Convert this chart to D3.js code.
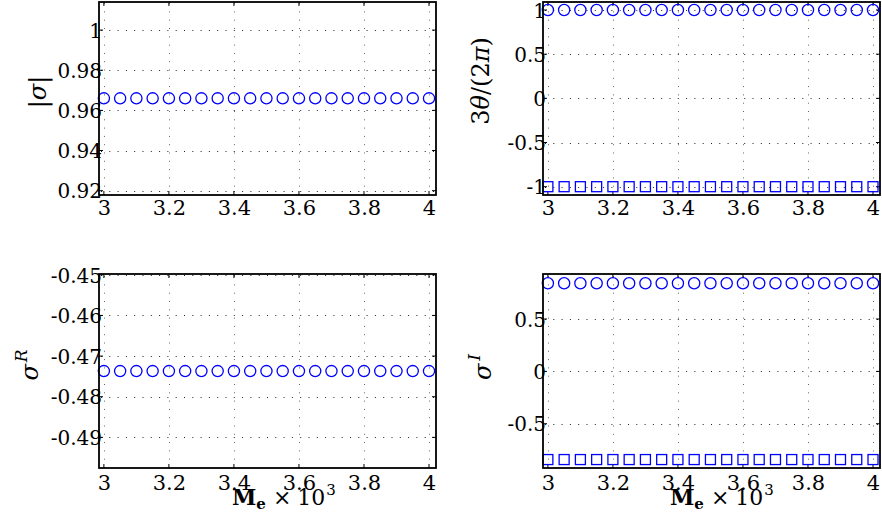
<!DOCTYPE html>
<html>
<head>
<meta charset="utf-8">
<script src="https://cdn.jsdelivr.net/npm/d3@7"></script>
<style>
  body { margin: 0; background: #fff; }
  svg text { font-family: "DejaVu Serif", serif; fill: #000; }
</style>
</head>
<body>
<svg id="chart" width="882" height="522"></svg>
<script>
// Mass parameter M_e (x 10^3) at which the eigenvalue was computed
const massValues = [3.00, 3.05, 3.10, 3.15, 3.20, 3.25, 3.30, 3.35, 3.40, 3.45, 3.50,
                    3.55, 3.60, 3.65, 3.70, 3.75, 3.80, 3.85, 3.90, 3.95, 4.00];

// Modulus |sigma|
const sigmaModulus = [0.966, 0.966, 0.966, 0.966, 0.966, 0.966, 0.966, 0.966, 0.966, 0.966, 0.966,
                      0.966, 0.966, 0.966, 0.966, 0.966, 0.966, 0.966, 0.966, 0.966, 0.966];

// Phase 3*theta/(2*pi): the conjugate pair
const phaseUpper = [1, 1, 1, 1, 1, 1, 1, 1, 1, 1, 1, 1, 1, 1, 1, 1, 1, 1, 1, 1, 1];
const phaseLower = [-1, -1, -1, -1, -1, -1, -1, -1, -1, -1, -1, -1, -1, -1, -1, -1, -1, -1, -1, -1, -1];

// Real part sigma^R
const sigmaReal = [-0.4737, -0.4737, -0.4737, -0.4737, -0.4737, -0.4737, -0.4737, -0.4737, -0.4737, -0.4737, -0.4737,
                   -0.4737, -0.4737, -0.4737, -0.4737, -0.4737, -0.4737, -0.4737, -0.4737, -0.4737, -0.4737];

// Imaginary part sigma^I: the conjugate pair
const sigmaImagUpper = [0.842, 0.842, 0.842, 0.842, 0.842, 0.842, 0.842, 0.842, 0.842, 0.842, 0.842,
                        0.842, 0.842, 0.842, 0.842, 0.842, 0.842, 0.842, 0.842, 0.842, 0.842];
const sigmaImagLower = [-0.842, -0.842, -0.842, -0.842, -0.842, -0.842, -0.842, -0.842, -0.842, -0.842, -0.842,
                        -0.842, -0.842, -0.842, -0.842, -0.842, -0.842, -0.842, -0.842, -0.842, -0.842];

// Tick labels
const xTicks = [3, 3.2, 3.4, 3.6, 3.8, 4];
const xTickLabels = ["3", "3.2", "3.4", "3.6", "3.8", "4"];
const modulusTicks = [1, 0.98, 0.96, 0.94, 0.92];
const modulusTickLabels = ["1", "0.98", "0.96", "0.94", "0.92"];
const phaseTicks = [1, 0.5, 0, -0.5, -1];
const phaseTickLabels = ["1", "0.5", "0", "-0.5", "-1"];
const realTicks = [-0.45, -0.46, -0.47, -0.48, -0.49];
const realTickLabels = ["-0.45", "-0.46", "-0.47", "-0.48", "-0.49"];
const imagTicks = [0.5, 0, -0.5];
const imagTickLabels = ["0.5", "0", "-0.5"];

const svg = d3.select("#chart");
const blue = "#0000ff";
const xDomain = [2.985, 4.0215];

const panels = [
  { left: 99,  right: 436, top: 2,   bottom: 195, xBase: 215,
    yDomain: [0.91785, 1.014], yTicks: modulusTicks, yLabels: modulusTickLabels,
    series: [{ values: sigmaModulus, shape: "circle" }] },
  { left: 543, right: 880, top: 2,   bottom: 195, xBase: 215,
    yDomain: [-1.094, 1.0906], yTicks: phaseTicks, yLabels: phaseTickLabels,
    series: [{ values: phaseUpper, shape: "circle" }, { values: phaseLower, shape: "square" }] },
  { left: 99,  right: 436, top: 274, bottom: 468, xBase: 490,
    yDomain: [-0.49754, -0.4498], yTicks: realTicks, yLabels: realTickLabels,
    series: [{ values: sigmaReal, shape: "circle" }] },
  { left: 543, right: 880, top: 274, bottom: 468, xBase: 490,
    yDomain: [-0.9226, 0.930], yTicks: imagTicks, yLabels: imagTickLabels,
    series: [{ values: sigmaImagUpper, shape: "circle" }, { values: sigmaImagLower, shape: "square" }] }
];

panels.forEach(p => {
  const x = d3.scaleLinear().domain(xDomain).range([p.left, p.right]);
  const y = d3.scaleLinear().domain(p.yDomain).range([p.bottom, p.top]);
  const g = svg.append("g");

  // dotted grid
  const grid = g.append("g").attr("stroke", "#222").attr("stroke-width", 1)
    .attr("stroke-dasharray", "1 7.3").attr("fill", "none");
  grid.selectAll(".gx").data(xTicks).join("line")
    .attr("x1", d => Math.round(x(d)) + 0.5).attr("x2", d => Math.round(x(d)) + 0.5)
    .attr("y1", p.bottom).attr("y2", p.top).attr("stroke", "#666");
  grid.selectAll(".gy").data(p.yTicks).join("line")
    .attr("y1", d => Math.round(y(d)) + 0.5).attr("y2", d => Math.round(y(d)) + 0.5)
    .attr("x1", p.left + 2).attr("x2", p.right);

  // inner tick marks
  const tk = g.append("g").attr("stroke", "#000").attr("stroke-width", 1);
  xTicks.forEach(d => {
    tk.append("line").attr("x1", x(d)).attr("x2", x(d)).attr("y1", p.bottom).attr("y2", p.bottom - 4);
    tk.append("line").attr("x1", x(d)).attr("x2", x(d)).attr("y1", p.top).attr("y2", p.top + 4);
  });
  p.yTicks.forEach(d => {
    tk.append("line").attr("y1", y(d)).attr("y2", y(d)).attr("x1", p.left).attr("x2", p.left + 4);
    tk.append("line").attr("y1", y(d)).attr("y2", y(d)).attr("x1", p.right).attr("x2", p.right - 4);
  });

  // markers
  p.series.forEach(s => {
    const pts = massValues.map((m, i) => ({ m, v: s.values[i] }));
    if (s.shape === "circle") {
      g.append("g").selectAll("circle").data(pts).join("circle")
        .attr("cx", d => x(d.m)).attr("cy", d => y(d.v)).attr("r", 5.6)
        .attr("fill", "none").attr("stroke", blue).attr("stroke-width", 1.3);
    } else {
      g.append("g").selectAll("rect").data(pts).join("rect")
        .attr("x", d => x(d.m) - 5).attr("y", d => y(d.v) - 5)
        .attr("width", 10).attr("height", 10)
        .attr("fill", "none").attr("stroke", blue).attr("stroke-width", 1.3);
    }
  });

  // box
  g.append("rect").attr("x", p.left).attr("y", p.top)
    .attr("width", p.right - p.left).attr("height", p.bottom - p.top)
    .attr("fill", "none").attr("stroke", "#000").attr("stroke-width", 1.8);

  // x axis tick labels
  const xa = g.append("g").attr("transform", `translate(0,${p.bottom})`)
    .call(d3.axisBottom(x).tickValues(xTicks).tickSize(0)
      .tickFormat((d, i) => xTickLabels[i]));
  xa.select(".domain").remove();
  xa.selectAll("text").attr("y", p.xBase - p.bottom).attr("dy", 0)
    .attr("font-size", 21).attr("fill", "#000");

  // y axis tick labels
  const ya = g.append("g").attr("transform", `translate(${p.left},0)`)
    .call(d3.axisLeft(y).tickValues(p.yTicks).tickSize(0).tickPadding(-3)
      .tickFormat((d, i) => p.yLabels[i]));
  ya.select(".domain").remove();
  ya.selectAll("text").attr("dy", "0.36em")
    .attr("font-size", 20).attr("fill", "#000");
});

// y-axis titles
function yTitle(tx, ty) {
  return svg.append("text").attr("transform", `translate(${tx},${ty}) rotate(-90)`)
    .attr("text-anchor", "middle").attr("font-size", 24);
}
const t1 = yTitle(46, 92);
t1.append("tspan").text("|");
t1.append("tspan").attr("font-style", "italic").text("σ");
t1.append("tspan").text("|");

const t2 = yTitle(489, 81);
t2.append("tspan").text("3");
t2.append("tspan").attr("font-style", "italic").text("θ");
t2.append("tspan").text("/(2");
t2.append("tspan").attr("font-style", "italic").text("π");
t2.append("tspan").text(")");

const t3 = yTitle(38, 365);
t3.append("tspan").attr("font-style", "italic").text("σ");
t3.append("tspan").attr("font-style", "italic").attr("font-size", 17).attr("dy", -11).attr("dx", 2).text("R");

const t4 = yTitle(491, 367);
t4.append("tspan").attr("font-style", "italic").text("σ");
t4.append("tspan").attr("font-style", "italic").attr("font-size", 17).attr("dy", -11).attr("dx", 3).text("I");

// x-axis titles under the bottom panels
function xTitle(tx) {
  const t = svg.append("text").attr("x", tx).attr("y", 505).attr("font-size", 22);
  t.append("tspan").attr("font-weight", "bold").text("M");
  t.append("tspan").attr("font-weight", "bold").attr("font-size", 15).attr("dy", 4).text("e");
  t.append("tspan").attr("dy", -4).attr("dx", 7).text("×");
  t.append("tspan").attr("dx", 6).text("10");
  t.append("tspan").attr("font-size", 15).attr("dy", -10).attr("dx", 1).text("3");
}
xTitle(232);
xTitle(670);
</script>
</body>
</html>
